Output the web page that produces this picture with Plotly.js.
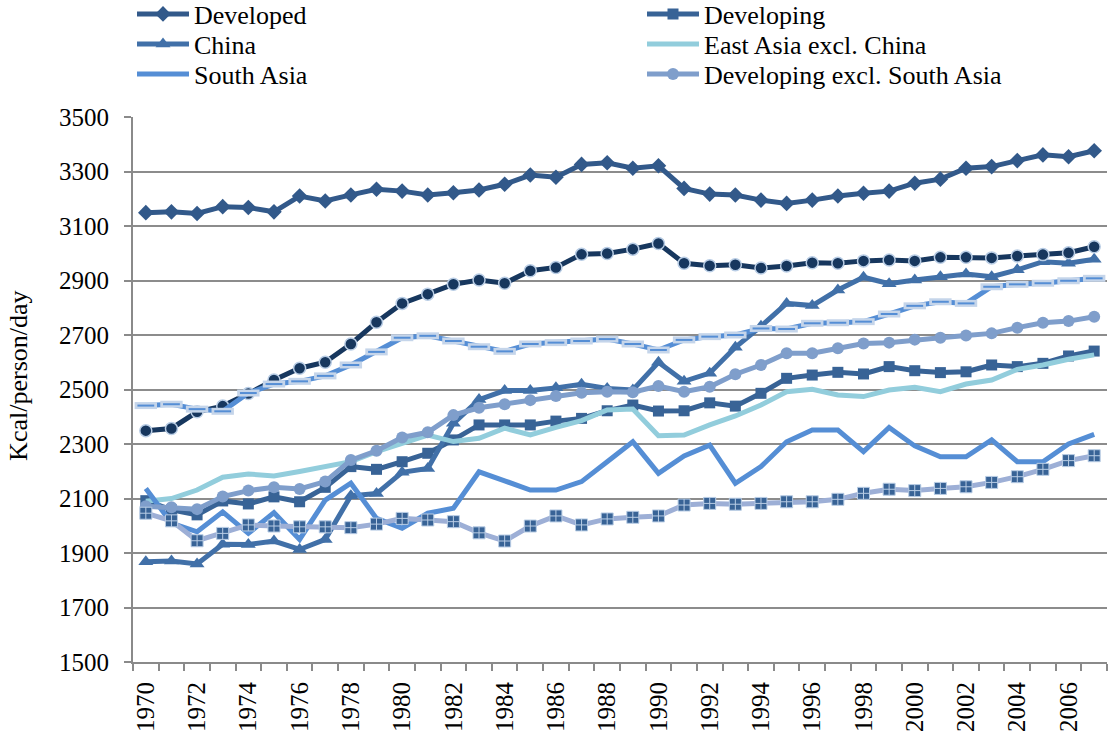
<!DOCTYPE html>
<html>
<head>
<meta charset="utf-8">
<script src="https://cdn.plot.ly/plotly-3.0.1.min.js"></script>
<style>html,body{margin:0;padding:0;background:#fff;}#chart{width:1110px;height:733px;}</style>
</head>
<body>
<div id="chart"></div>
<script>
const years = [1970,1971,1972,1973,1974,1975,1976,1977,1978,1979,1980,1981,1982,1983,1984,1985,1986,1987,1988,1989,1990,1991,1992,1993,1994,1995,1996,1997,1998,1999,2000,2001,2002,2003,2004,2005,2006,2007];
const tickYears = [1970,1972,1974,1976,1978,1980,1982,1984,1986,1988,1990,1992,1994,1996,1998,2000,2002,2004,2006];
const yTitle = 'Kcal/person/day';

const developed = [3149,3152,3146,3171,3168,3152,3210,3192,3214,3235,3228,3214,3222,3232,3253,3287,3279,3326,3332,3312,3321,3238,3217,3214,3195,3183,3195,3210,3220,3228,3257,3272,3312,3318,3340,3361,3354,3376];
const developing = [2092,2058,2040,2091,2080,2106,2088,2141,2217,2207,2235,2266,2315,2370,2370,2370,2384,2394,2422,2443,2421,2422,2451,2439,2486,2541,2553,2563,2557,2584,2569,2562,2565,2590,2584,2596,2623,2641];
const china = [1868,1871,1860,1932,1931,1944,1913,1950,2110,2118,2196,2210,2376,2463,2496,2496,2506,2519,2504,2498,2600,2530,2560,2655,2732,2816,2808,2865,2912,2888,2902,2914,2924,2914,2939,2969,2963,2978];
const eastAsiaExChina = [2090,2100,2131,2178,2190,2183,2199,2217,2235,2272,2302,2333,2309,2321,2358,2333,2361,2386,2425,2428,2330,2333,2370,2403,2443,2492,2501,2480,2474,2498,2508,2492,2520,2535,2574,2590,2611,2627];
const southAsia = [2137,2010,1978,2051,1972,2048,1950,2094,2156,2027,1991,2046,2064,2198,2165,2131,2131,2162,2235,2308,2192,2256,2296,2156,2217,2308,2351,2351,2272,2361,2293,2253,2253,2315,2235,2235,2300,2335];
const developingExSouthAsia = [2072,2068,2061,2107,2129,2141,2135,2162,2241,2275,2324,2343,2406,2433,2446,2461,2476,2488,2492,2490,2513,2492,2510,2556,2590,2633,2633,2651,2669,2672,2683,2690,2698,2706,2727,2745,2751,2767];
const unlabeledA = [2349,2357,2418,2439,2485,2535,2578,2600,2667,2747,2816,2850,2886,2902,2890,2936,2948,2996,2999,3015,3036,2963,2954,2958,2946,2953,2965,2963,2972,2975,2972,2985,2985,2983,2990,2995,3002,3024];
const unlabeledB = [2441,2446,2428,2420,2487,2520,2530,2550,2590,2638,2690,2697,2678,2657,2640,2667,2672,2678,2685,2667,2645,2682,2694,2700,2724,2722,2743,2745,2749,2777,2807,2822,2816,2877,2886,2890,2899,2908];
const unlabeledC = [2046,2018,1945,1972,2003,1999,1996,1996,1993,2006,2027,2021,2015,1974,1944,1999,2036,2003,2025,2031,2036,2076,2082,2079,2082,2088,2088,2097,2119,2134,2129,2137,2143,2159,2180,2207,2239,2257];

const FONT = 'Liberation Serif, Times New Roman, serif';
const LW = 5;

const traces = [
  {name:'Developed', x:years, y:developed, mode:'lines+markers', legend:'legend',
   line:{color:'#32598A', width:LW}, marker:{symbol:'diamond', size:12, color:'#32598A'}},
  {name:'Developing', x:years, y:developing, mode:'lines+markers', legend:'legend2',
   line:{color:'#386396', width:LW}, marker:{symbol:'square', size:11, color:'#386396'}},
  {name:'China', x:years, y:china, mode:'lines+markers', legend:'legend3',
   line:{color:'#4170A8', width:LW}, marker:{symbol:'triangle-up', size:13, color:'#4170A8'}},
  {name:'East Asia excl. China', x:years, y:eastAsiaExChina, mode:'lines', legend:'legend4',
   line:{color:'#92CDDC', width:LW}},
  {name:'South Asia', x:years, y:southAsia, mode:'lines', legend:'legend5',
   line:{color:'#558ED5', width:LW}},
  {name:'Developing excl. South Asia', x:years, y:developingExSouthAsia, mode:'lines+markers', legend:'legend6',
   line:{color:'#7F9ECB', width:LW}, marker:{symbol:'circle', size:12, color:'#7F9ECB'}},
  {name:'A', x:years, y:unlabeledA, mode:'lines+markers', showlegend:false,
   line:{color:'#17375E', width:LW}, marker:{symbol:'circle', size:12, color:'#17375E', line:{color:'#B9CDE5', width:1.5}}},
  {name:'B', x:years, y:unlabeledB, mode:'lines+markers', showlegend:false,
   line:{color:'#558ED5', width:LW}, marker:{symbol:'line-ew', size:16, line:{color:'#C5D5EA', width:7}}},
  {name:'B2', x:years, y:unlabeledB, mode:'markers', showlegend:false, hoverinfo:'skip',
   marker:{symbol:'line-ew', size:12, line:{color:'#558ED5', width:2}}},
  {name:'C', x:years, y:unlabeledC, mode:'lines+markers', showlegend:false,
   line:{color:'#9DAFD6', width:LW}, marker:{symbol:'square-cross', size:12, color:'#386396', line:{color:'#B9CDE5', width:1}}}
];

function legendAt(xPx, yPx){
  return {xref:'container', yref:'container', x:xPx/1110, y:1 - yPx/733, xanchor:'left', yanchor:'middle',
    orientation:'v', itemwidth:52,
    font:{family:FONT, size:26, color:'#000'}, bgcolor:'rgba(0,0,0,0)', borderwidth:0};
}

const layout = {
  width:1110, height:733,
  margin:{l:133, r:3, t:117, b:71, autoexpand:false},
  paper_bgcolor:'#fff', plot_bgcolor:'#fff',
  font:{family:FONT, color:'#000'},
  showlegend:true,
  legend: legendAt(132, 14),
  legend2: legendAt(642, 14),
  legend3: legendAt(132, 44),
  legend4: legendAt(642, 44),
  legend5: legendAt(132, 74),
  legend6: legendAt(642, 74),
  xaxis:{
    range:[1969.5, 2007.5], tickmode:'array', tickvals:tickYears, ticktext:tickYears.map(String),
    tickangle:-90, ticks:'', ticklabelstandoff:8, tickfont:{family:FONT, size:25, color:'#000'},
    showgrid:false, zeroline:false, showline:true, linecolor:'#8A8A8A', linewidth:2, automargin:false,
    minor:{tickmode:'linear', tick0:1969.5, dtick:1, ticks:'outside', ticklen:7, tickcolor:'#8A8A8A', tickwidth:2, showgrid:false}
  },
  yaxis:{
    range:[1500,3500], tickmode:'linear', tick0:1500, dtick:200,
    ticks:'outside', ticklen:7, tickcolor:'#8A8A8A', tickwidth:2, ticklabelstandoff:10,
    tickfont:{family:FONT, size:25, color:'#000'}, automargin:false,
    showgrid:true, gridcolor:'#8C8C8C', gridwidth:2, zeroline:false,
    showline:true, linecolor:'#8A8A8A', linewidth:2
  },
  annotations:[{text:yTitle, textangle:-90, xref:'paper', yref:'paper', x:(19-133)/974, y:0.525,
    xanchor:'center', yanchor:'middle', showarrow:false, font:{family:FONT, size:26, color:'#000'}}]
};

Plotly.newPlot('chart', traces, layout, {displayModeBar:false, staticPlot:true});
</script>
</body>
</html>
